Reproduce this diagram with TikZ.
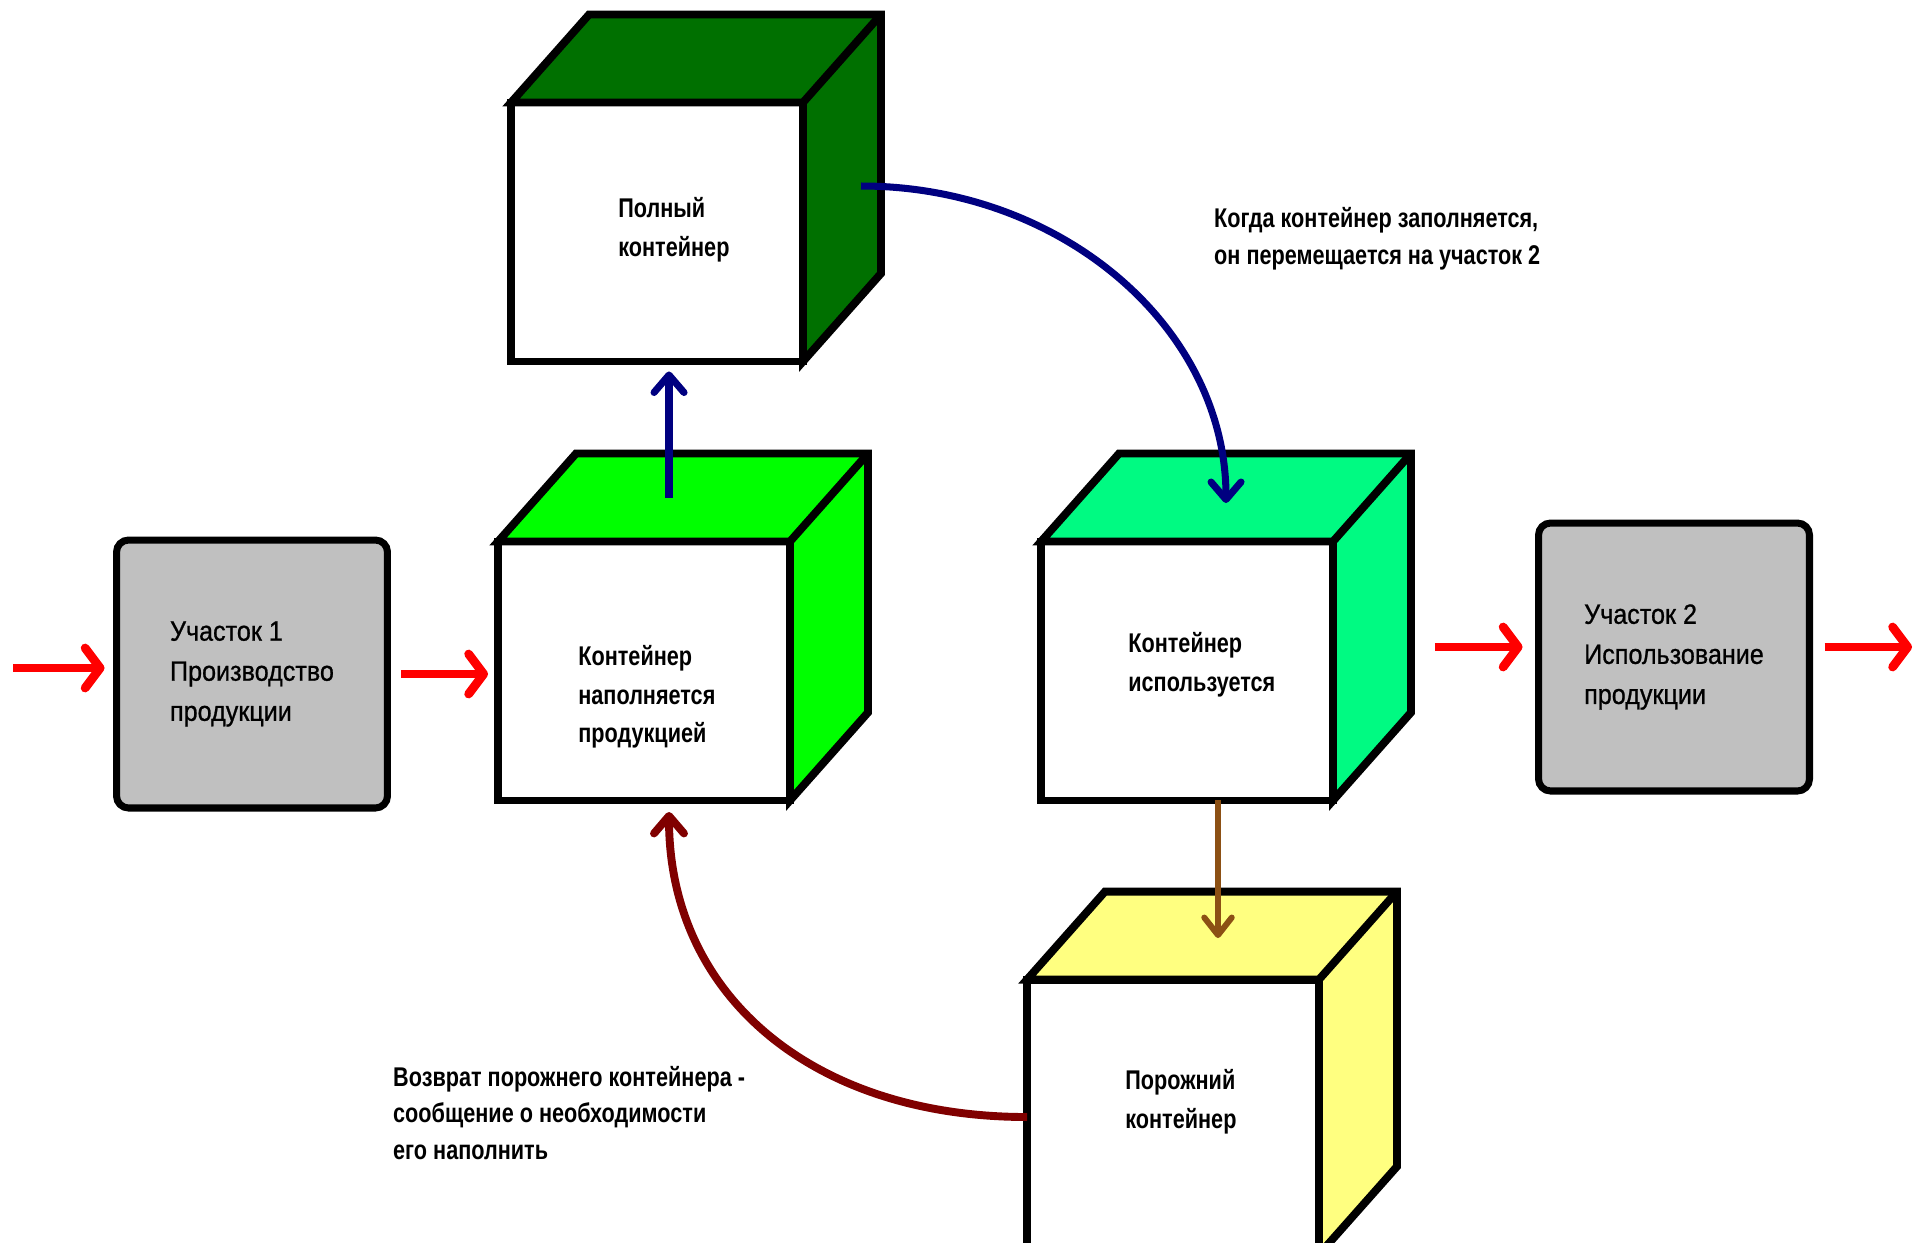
\documentclass[tikz,border=0pt]{standalone}
\usepackage{fontspec}
\setmainfont{Liberation Sans}
\usetikzlibrary{arrows.meta,positioning,calc}
\newfontfamily\plainnarrow{Liberation Sans}[FakeStretch=0.9, FakeBold=0.8]
\newfontfamily\boldnarrow{Liberation Sans}[FakeStretch=0.8]
\definecolor{fullgreen}{RGB}{0,112,0}
\definecolor{fillgreen}{RGB}{0,255,0}
\definecolor{usedgreen}{RGB}{0,250,130}
\definecolor{emptyyellow}{RGB}{255,255,128}
\definecolor{sitegray}{RGB}{192,192,192}
\definecolor{flowred}{RGB}{255,0,0}
\definecolor{movenavy}{RGB}{0,0,128}
\definecolor{dropbrown}{RGB}{140,80,20}
\definecolor{backmaroon}{RGB}{128,0,0}
\newcommand{\cubesides}[2]{%
  \draw[cubeline, fill=#2] (#1.north west) -- ++(78,-88)
    -- ($(#1.north east)+(78,-88)$) -- ($(#1.south east)+(78,-88)$)
    -- (#1.south east) -- (#1.north east) -- cycle;
  \draw[cubeline] (#1.north east) -- ++(78,-88);
}

\begin{document}
\begin{tikzpicture}[
    x=0.02cm, y=-0.02cm,
    face/.style={rectangle, draw, line width=4.5pt, fill=white, minimum width=5.84cm, minimum height=5.18cm, outer sep=0pt},
    facetext/.style={anchor=west, inner sep=0pt, align=left, font=\boldnarrow\bfseries\fontsize{15.4}{22}\selectfont},
    cubeline/.style={line width=4.5pt, line join=miter},
    site/.style={rectangle, draw, line width=4pt, fill=sitegray, rounded corners=0.24cm, minimum width=5.42cm, minimum height=5.36cm, outer sep=0pt, align=left, font=\plainnarrow\fontsize{15.9}{22.8}\selectfont},
    note/.style={anchor=west, align=left, font=\boldnarrow\bfseries\fontsize{15.4}{21}\selectfont},
    redarrow/.style={-{Straight Barb[length=0.3cm, width=0.8cm, round]}, line width=5pt, flowred},
    navyarrow/.style={-{Straight Barb[length=0.35cm, width=0.6cm, round]}, line width=4pt, movenavy},
    brownarrow/.style={-{Straight Barb[length=0.35cm, width=0.55cm, round]}, line width=3.4pt, dropbrown},
    maroonarrow/.style={-{Straight Barb[length=0.35cm, width=0.6cm, round]}, line width=4.5pt, backmaroon}
]
    \useasboundingbox (0,0) rectangle (1915,1242);
    \clip (0,0) rectangle (1915,1242);

    % sites
    \node[site] (site1) at (252,674) {Участок 1\\Производство\\продукции};
    \node[site] (site2) at (1674,657) {Участок 2\\Использование\\продукции};

    % containers
    \node[face] (full) at (657,232) {};
    \cubesides{full}{fullgreen}
    \node[facetext] (fulltext) at (618,230) {Полный\\контейнер};
    \node[face] (filling) at (644,671) {};
    \cubesides{filling}{fillgreen}
    \node[facetext] (fillingtext) at (578,697) {Контейнер\\наполняется\\продукцией};
    \node[face] (used) at (1187,671) {};
    \cubesides{used}{usedgreen}
    \node[facetext] (usedtext) at (1128,665) {Контейнер\\используется};
    \node[face, minimum height=5.5cm] (empty) at (1173,1117) {};
    \cubesides{empty}{emptyyellow}
    \node[facetext] (emptytext) at (1125,1102) {Порожний\\контейнер};

    % notes
    \node[note] (movenote) at (1208,239) {Когда контейнер заполняется,\\он перемещается на участок 2};
    \node[note] (returnnote) at (387,1113) {Возврат порожнего контейнера -\\сообщение о необходимости\\его наполнить};

    \coordinate (inflow) at (13,668);
    \coordinate (outflow) at (1912,647);
    \coordinate (fillingtop) at (669,498);
    \coordinate (fullside) at (861,186);
    \coordinate (usedtop) at (1226,503);
    \coordinate (emptytop) at (1218,938);
    \coordinate (fillingbottom) at (669,812);

    % product flow
    \draw[redarrow, shorten >=0.24cm] (inflow) -- (inflow -| site1.west);
    \draw[redarrow, shorten <=0.28cm, shorten >=0.2cm] (site1.east) -- (site1.east -| filling.west);
    \draw[redarrow, shorten <=2.04cm, shorten >=0.32cm] (used.east |- outflow) -- (site2.west |- outflow);
    \draw[redarrow, shorten <=0.3cm] (site2.east |- outflow) -- (outflow);

    % container loop
    \draw[navyarrow, shorten >=0.2cm] (fillingtop) -- (fillingtop |- full.south);
    \draw[navyarrow] (fullside) .. controls +(201,0) and +(0,-175) .. (usedtop);
    \draw[brownarrow] (emptytop |- used.south) -- (emptytop);
    \draw[maroonarrow] (empty.west) .. controls +(-215,0) and +(0,183) .. (fillingbottom);
\end{tikzpicture}
\end{document}
